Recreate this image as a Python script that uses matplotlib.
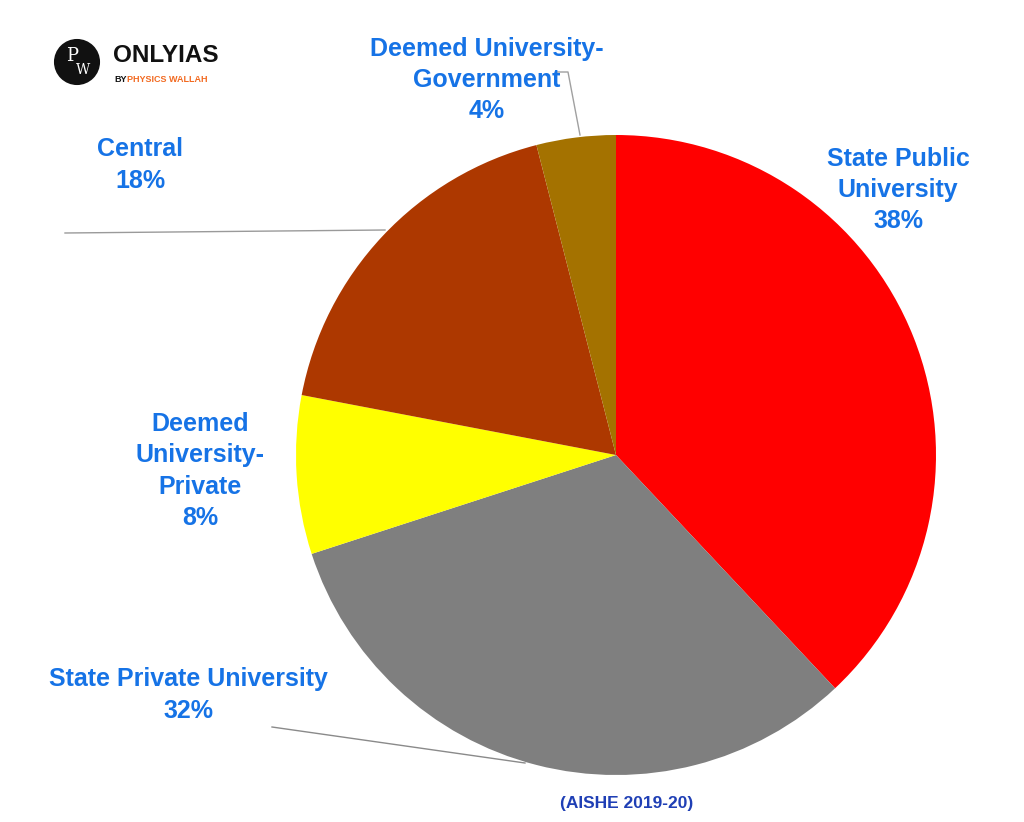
import matplotlib
matplotlib.use("Agg")
import matplotlib.pyplot as plt
from matplotlib.patches import Circle

categories = ["State Public\nUniversity", "State Private University", "Deemed\nUniversity-\nPrivate",
              "Central", "Deemed University-\nGovernment"]
values = [38, 32, 8, 18, 4]
colors = ["#FF0000", "#7F7F7F", "#FFFF00", "#AD3800", "#A47200"]
source = "(AISHE 2019-20)"

W, H = 1024, 822
fig = plt.figure(figsize=(W / 100, H / 100), dpi=100)
ax = fig.add_axes([0, 0, 1, 1])

def Y(py):
    return H - py

cx, cy, r = 616, 455, 320
ax.pie(values, colors=colors, startangle=90, counterclock=False,
       center=(cx, Y(cy)), radius=r, frame=True,
       wedgeprops=dict(linewidth=0, antialiased=True))
ax.set_xlim(0, W)
ax.set_ylim(0, H)
ax.set_aspect("equal")
ax.axis("off")

lab_color = "#1673E6"
fs = 18
font = dict(family=["Liberation Sans", "DejaVu Sans"], weight="bold", color=lab_color,
            fontsize=fs, ha="center", va="center", linespacing=1.37)

label_pos = [(898, 190), (188, 695), (200, 471), (140, 165), (487, 80)]
for cat, v, (lx, ly) in zip(categories, values, label_pos):
    ax.text(lx, Y(ly), f"{cat}\n{v}%", **font)

# leader lines
ax.plot([65, 385], [Y(233), Y(230)], color="#9a9a9a", lw=1.0)
ax.plot([272, 525], [Y(727), Y(763)], color="#8a8a8a", lw=1.0)
ax.plot([556, 568, 580], [Y(72), Y(72), Y(135)], color="#a0a0a0", lw=1.0)

ax.text(627, Y(803), source, family=["Liberation Sans", "DejaVu Sans"], weight="bold",
        color="#1F3FB5", fontsize=12.5, ha="center", va="center")

# logo
ax.add_patch(Circle((77, Y(62)), 22, facecolor="#111111", edgecolor="#111111", lw=1.5))
ax.text(72, Y(56), "P", family="DejaVu Serif", color="white", fontsize=13, ha="center", va="center")
ax.text(83, Y(70), "W", family="DejaVu Serif", color="white", fontsize=10, ha="center", va="center")
ax.text(113, Y(56), "ONLYIAS", family=["Liberation Sans", "DejaVu Sans"], weight="bold",
        color="#111111", fontsize=17.5, ha="left", va="center")
ax.text(114, Y(79), "BY", family=["Liberation Sans", "DejaVu Sans"], weight="bold",
        color="#111111", fontsize=6.5, ha="left", va="center")
ax.text(127, Y(79), "PHYSICS WALLAH", family=["Liberation Sans", "DejaVu Sans"], weight="bold",
        color="#F26A21", fontsize=6.5, ha="left", va="center")

fig.savefig("out.png", dpi=100, facecolor="white")
